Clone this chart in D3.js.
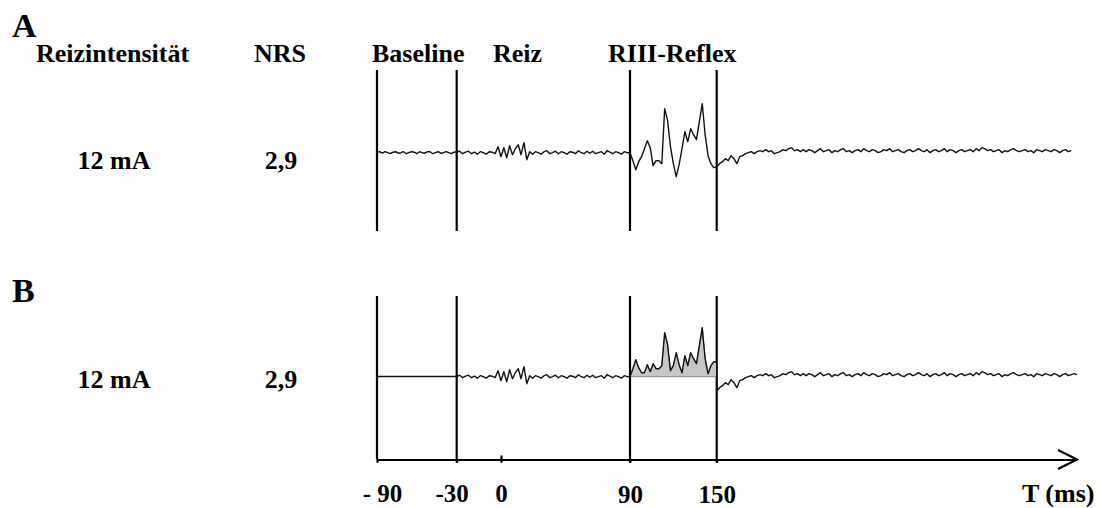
<!DOCTYPE html>
<html>
<head>
<meta charset="utf-8">
<script src="https://cdnjs.cloudflare.com/ajax/libs/d3/7.8.5/d3.min.js"></script>
<style>
  body { margin: 0; background: #fff; }
  svg text { font-family: "Liberation Serif", "Times New Roman", serif; font-weight: bold; fill: #000; }
</style>
</head>
<body>
<div id="visualContainer"></div>
<script>
// EMG samples, one every 2 ms starting at -90 ms (arbitrary amplitude units)
var startMs = -90;
var stepMs = 2;
var emgBaseline = [0, 1, -0.5, 1, 0, -1, 0.5, 1, -0.5, 0, 1, -1, 0, 1, 0.5, -1, 1, 0, -0.5, 1, 1, -1, 0, 1, -0.5, 0, 1, 0, -1, 0.5, 1];   // -90 .. -30
var emgPreStim = [1.5, -1, 0.5, 1.5, -1, 0.5, -1.5, 1, 0, -1.5, 1, 0.5, -1];   // -28 .. -4
var emgArtifact = [6, -4, 5, -5, 7, -2, 4, 8, -2, 10, -7, 1];   // -2 .. 20
var emgPreReflex = [-1.5, 1, 0, -1.5, 1, 2, -1, 0, 1.5, -1, 1, 0, -1.5, 1, 0.5, -1, 2, 0, -1, 1.5,
  -0.5, 1.5, -1, 0, 1, -1.5, 2, 0.5, -1, 1, 0, -1.5, 1, 0];   // 22 .. 88
var emgReflex = [0, -8, -17, -9, -4, 4, 12, 5, -13, -8, -8, -11, 44, 32, 6, -11, -24, -12, 4, 21,
  11, 24, 18, 13, 31, 49, 18, -3, -11, -15, -14];   // 90 .. 150
var emgPost = [-11, -9, -6, -8, -3, -6, -11, -4, -3, -1, 0, 1, -1, 1, 2, 1, 3, 1, 2, -1,
  0, 1, 3, 2, 4, 5, 2, 3, 1, 3,
  1, 3, 2, 0, 2, 4, 1, 2, 3, 0, 2, 1, 3, 4, 1, 2, 0, 2, 3, 1,
  4, 2, 1, 3, 2, 0, 1, 3, 2, 4, 1, 2, 3, 1, 0, 2, 3, 1, 2, 4,
  2, 1, 3, 0, 2, 3, 1, 2, 4, 1, 3, 2, 0, 2, 3, 1, 2, 3, 1, 4,
  2, 5, 4, 2, 3, 1, 2, 3, 0, 2, 1, 3, 4, 2, 1, 2, 3, 1, 2, 0,
  3, 2, 1, 3, 2, 1, 3, 2, 0, 2, 3, 1, 2, 3, 2];   // 152 .. 400

var windowMarks = [-90, -30, 90, 150];
var reflexWindow = [90, 150];
var tickValues = [-90, -30, 0, 90, 150];
var tickLabels = ["- 90", "-30", "0", "90", "150"];
var headerLabels = ["Reizintensität", "NRS", "Baseline", "Reiz", "RIII-Reflex"];
var rowIntensity = ["12 mA", "12 mA"];
var rowNRS = ["2,9", "2,9"];
var panelNames = ["A", "B"];

var emg = [].concat(emgBaseline, emgPreStim, emgArtifact, emgPreReflex, emgReflex, emgPost)
  .map(function(v, i){ return {t: startMs + i * stepMs, v: v}; });

var svgCanvas = d3.select("#visualContainer")
  .append("svg")
  .attr("width", 1101)
  .attr("height", 508)
  .attr("font-family", "Liberation Serif, serif");

svgCanvas.append("rect").attr("width", 1101).attr("height", 508).attr("fill", "#fff");

// the time axis is not linear in the original figure
var x = d3.scaleLinear()
  .domain([-90, -30, 0, 90, 150, 400])
  .range([377, 456.7, 501, 630, 716.7, 1077]);

var panels = [
  {top: 70, bottom: 231, zero: 152.7, labelY: 169, nameY: 37},
  {top: 296, bottom: 459.5, zero: 376.7, labelY: 388, nameY: 302}
];
panels.forEach(function(p){
  p.y = d3.scaleLinear().domain([-60, 60]).range([p.zero + 60, p.zero - 60]);
});

// panel letters
svgCanvas.selectAll("text.panel")
  .data(panelNames)
  .enter()
    .append("text")
      .attr("class", "panel")
      .attr("x", 12)
      .attr("y", function(d, i){ return panels[i].nameY; })
      .style("font-size", "34px")
      .text(function(d){ return d; });

// column headers
var headerX = [36, 254, 372, 493, 608];
svgCanvas.selectAll("text.header")
  .data(headerLabels)
  .enter()
    .append("text")
      .attr("class", "header")
      .attr("x", function(d, i){ return headerX[i]; })
      .attr("y", 62)
      .style("font-size", "26px")
      .text(function(d){ return d; });

// row values
panels.forEach(function(p, i){
  svgCanvas.append("text")
    .attr("x", 114).attr("y", p.labelY)
    .attr("text-anchor", "middle")
    .style("font-size", "26px")
    .text(rowIntensity[i]);
  svgCanvas.append("text")
    .attr("x", 281).attr("y", p.labelY)
    .attr("text-anchor", "middle")
    .style("font-size", "26px")
    .text(rowNRS[i]);
});

// window lines
panels.forEach(function(p, i){
  svgCanvas.selectAll("line.mark" + i)
    .data(windowMarks)
    .enter()
      .append("line")
        .attr("class", "mark" + i)
        .attr("x1", function(d){ return x(d); })
        .attr("x2", function(d){ return x(d); })
        .attr("y1", p.top)
        .attr("y2", function(d){ return (i == 1 && d != -90) ? p.bottom + 3.2 : p.bottom; })
        .attr("stroke", "#000")
        .attr("stroke-width", 2.2);
});

var lineA = d3.line()
  .x(function(d){ return x(d.t); })
  .y(function(d){ return panels[0].y(d.v); });

svgCanvas.append("path")
  .datum(emg.filter(function(d){ return d.t <= 396; }))
  .attr("d", lineA)
  .attr("fill", "none")
  .attr("stroke", "#111")
  .attr("stroke-width", 1.4)
  .attr("stroke-linejoin", "round");

// B: baseline window averaged, reflex window rectified
var baseMean = d3.mean(emgBaseline);
var traceB = [];
emg.forEach(function(d){
  if (d.t <= -30) {
    traceB.push({t: d.t, v: baseMean});
  } else if (d.t >= reflexWindow[0] && d.t <= reflexWindow[1]) {
    traceB.push({t: d.t, v: Math.abs(d.v)});
    if (d.t == reflexWindow[1]) traceB.push({t: d.t, v: d.v});
  } else {
    traceB.push(d);
  }
});
var rectified = emg.filter(function(d){ return d.t >= reflexWindow[0] && d.t <= reflexWindow[1]; });

var areaB = d3.area()
  .x(function(d){ return x(d.t); })
  .y0(panels[1].y(0))
  .y1(function(d){ return panels[1].y(Math.abs(d.v)); });

svgCanvas.append("path")
  .datum(rectified)
  .attr("d", areaB)
  .attr("fill", "#c6c6c6")
  .attr("stroke", "#8a8a8a")
  .attr("stroke-width", 1);

var lineB = d3.line()
  .x(function(d){ return x(d.t); })
  .y(function(d){ return panels[1].y(d.v); });

svgCanvas.append("path")
  .datum(traceB)
  .attr("d", lineB)
  .attr("fill", "none")
  .attr("stroke", "#111")
  .attr("stroke-width", 1.4)
  .attr("stroke-linejoin", "round");

// time axis under B
var xAxis = d3.axisBottom(x)
  .tickValues(tickValues)
  .tickFormat(function(d, i){ return tickLabels[i]; })
  .tickSizeInner(3.2)
  .tickSizeOuter(0)
  .tickPadding(24);

var axisG = svgCanvas.append("g")
  .attr("transform", "translate(0," + panels[1].bottom + ")")
  .call(xAxis)
  .attr("font-family", null)
  .attr("font-size", null);

axisG.select(".domain").attr("stroke", "#000").attr("stroke-width", 2.2);
axisG.selectAll(".tick line").attr("stroke", "#000").attr("stroke-width", 2.2)
  .attr("y1", function(d){ return d == 0 ? -4 : 0; });
axisG.selectAll(".tick text")
  .style("font-size", "25px")
  .attr("dx", function(d){ return d == -90 ? 5 : (d == -30 ? -5 : 0); })
  .attr("y", function(d){ return (d >= 90) ? 26 : 25; });

// arrow head
var tipX = x(400);
axisG.append("path")
  .attr("d", "M" + (tipX - 19) + ",-9.5L" + tipX + ",0L" + (tipX - 19) + ",9.5")
  .attr("fill", "none")
  .attr("stroke", "#000")
  .attr("stroke-width", 2.2);

svgCanvas.append("text")
  .attr("x", 1022)
  .attr("y", 502)
  .style("font-size", "26px")
  .text("T (ms)");
</script>
</body>
</html>
